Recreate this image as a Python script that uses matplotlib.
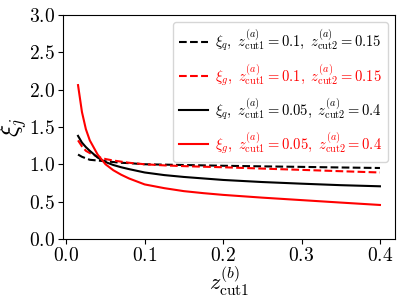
import matplotlib
matplotlib.use('Agg')
import matplotlib.pyplot as plt

plt.rcParams['font.family'] = 'serif'
plt.rcParams['font.serif'] = ['cmr10']
plt.rcParams['mathtext.fontset'] = 'cm'
plt.rcParams['axes.formatter.use_mathtext'] = True

# values
x = [0.015, 0.02, 0.025, 0.03, 0.04, 0.05, 0.06, 0.07, 0.08, 0.1, 0.125, 0.15,
     0.175, 0.2, 0.25, 0.3, 0.35, 0.4]
xi_q_a = [1.13, 1.10, 1.08, 1.06, 1.05, 1.04, 1.03, 1.02, 1.015, 1.0, 0.995, 0.99,
          0.985, 0.98, 0.972, 0.965, 0.957, 0.95]
xi_g_a = [1.32, 1.24, 1.18, 1.15, 1.10, 1.07, 1.05, 1.035, 1.02, 1.0, 0.985, 0.975,
          0.967, 0.96, 0.942, 0.925, 0.907, 0.89]
xi_q_b = [1.38, 1.29, 1.23, 1.18, 1.09, 1.03, 0.99, 0.96, 0.935, 0.89, 0.855, 0.83,
          0.81, 0.79, 0.762, 0.74, 0.72, 0.705]
xi_g_b = [2.06, 1.70, 1.47, 1.32, 1.13, 1.00, 0.92, 0.86, 0.81, 0.73, 0.68, 0.64,
          0.613, 0.59, 0.553, 0.52, 0.487, 0.455]

fig = plt.figure(figsize=(4.06, 3.04), dpi=100)
ax = fig.add_axes([0.155, 0.214, 0.818, 0.737])

ax.plot(x, xi_q_a, 'k--', lw=1.5,
        label=r'$\xi_q,\ z^{(a)}_{\mathrm{cut1}}=0.1,\ z^{(a)}_{\mathrm{cut2}}=0.15$')
ax.plot(x, xi_g_a, 'r--', lw=1.5,
        label=r'$\xi_g,\ z^{(a)}_{\mathrm{cut1}}=0.1,\ z^{(a)}_{\mathrm{cut2}}=0.15$')
ax.plot(x, xi_q_b, 'k-', lw=1.5,
        label=r'$\xi_q,\ z^{(a)}_{\mathrm{cut1}}=0.05,\ z^{(a)}_{\mathrm{cut2}}=0.4$')
ax.plot(x, xi_g_b, 'r-', lw=1.5,
        label=r'$\xi_g,\ z^{(a)}_{\mathrm{cut1}}=0.05,\ z^{(a)}_{\mathrm{cut2}}=0.4$')

ax.set_ylim(0, 3)
ax.set_xticks([0.0, 0.1, 0.2, 0.3, 0.4])
ax.set_yticks([0.0, 0.5, 1.0, 1.5, 2.0, 2.5, 3.0])
ax.tick_params(labelsize=14, pad=2)
ax.set_xlabel(r'$z^{(b)}_{\mathrm{cut1}}$', fontsize=16, labelpad=0)
ax.set_ylabel(r'$\xi_j$', fontsize=18, labelpad=0)
ax.legend(loc='upper right', fontsize=10.5, labelcolor='linecolor',
          labelspacing=0.6, handletextpad=0.5)

fig.savefig('out.png', dpi=100)
